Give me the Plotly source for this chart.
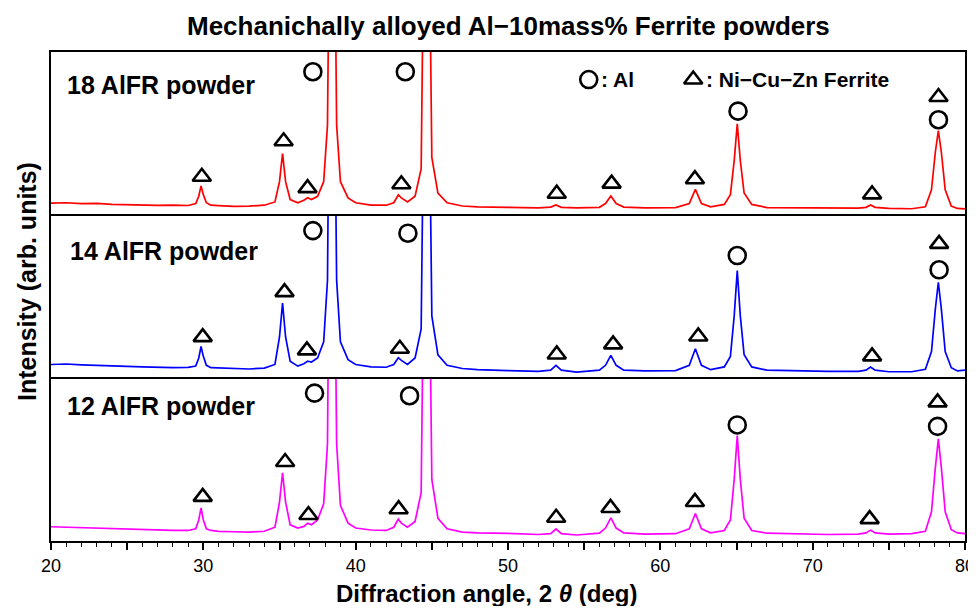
import plotly.graph_objects as go

# ---------------- data ----------------
two_theta = [20, 21, 22, 23, 24, 25, 26, 27, 28, 29, 29.5, 29.7, 29.85, 30.0, 30.2, 30.5,
             31, 32, 33, 34, 34.7, 35.0, 35.2, 35.4, 35.7, 36.2, 36.6, 36.85, 37.1, 37.5,
             37.9, 38.15, 38.3, 38.45, 38.6, 38.75, 39.0, 39.5, 40, 41, 42, 42.5, 42.8, 43.0,
             43.4, 43.9, 44.3, 44.5, 44.65, 44.8, 45.0, 45.4, 46, 47, 48, 50, 52, 52.8, 53.15,
             53.5, 54.5, 56, 56.4, 56.75, 57.1, 57.6, 59, 61, 61.9, 62.3, 62.7, 63.3, 64.2,
             64.6, 64.85, 65.05, 65.25, 65.5, 66.0, 67, 69, 71, 73, 73.5, 73.8, 74.1, 75,
             76.5, 77.4, 77.8, 78.05, 78.25, 78.45, 78.7, 79.1, 79.5, 80]

int_18 = [6.8, 7.0, 6.5, 6.6, 6.0, 5.8, 5.5, 5.4, 5.6, 5.3, 6.5, 11, 17.4, 12, 7, 5.5,
          5.2, 4.8, 4.9, 5.5, 7.5, 20, 37.3, 20, 9, 7, 8.5, 10.1, 9, 11,
          20, 55, 200, 400, 200, 55, 20, 10, 7, 5.5, 5.5, 7, 11.8, 10,
          7.5, 11, 28, 200, 400, 200, 35, 13, 7, 5, 4.5, 4.2, 3.9, 4.3, 5.6,
          4.2, 3.8, 4.2, 6.5, 11.2, 6.5, 4.3, 3.9, 4.0, 6.5, 15.3, 6.5, 4.5, 6,
          12, 33, 55.7, 33, 13, 6, 4, 3.8, 3.6, 3.7, 4.2, 5.6, 4.2, 3.5,
          3.3, 4.5, 15, 38, 51.5, 38, 15, 5, 3.5, 3.2]

int_14 = [8.0, 8.3, 7.8, 7.6, 7.0, 6.8, 6.5, 6.2, 6.0, 6.2, 7, 12, 19.1, 13, 7.5, 6,
          5.8, 5.5, 5.2, 5.8, 8, 25, 45.9, 25, 10, 7, 8.5, 10.1, 9.5, 12,
          22, 60, 200, 400, 200, 60, 22, 11, 8, 6.5, 6.3, 8, 12.2, 10.5,
          8, 12, 30, 200, 400, 200, 38, 14, 7.5, 5.5, 4.8, 4.2, 3.8, 4.5, 7.4,
          4.5, 3.3, 4.5, 7.5, 13.6, 7.5, 4.5, 4.0, 4.2, 7.5, 17.7, 7.5, 4.8, 6.5,
          13, 38, 66.0, 38, 14, 6.5, 4.5, 4.0, 3.8, 3.8, 4.5, 6.4, 4.5, 3.5,
          3.5, 5, 16, 42, 58.8, 42, 16, 6, 4, 4.5]

int_12 = [8.8, 8.5, 8.3, 8.0, 7.5, 7.3, 7.0, 6.7, 6.5, 6.5, 7.5, 13, 20.4, 13, 7.5, 6.5,
          6, 5.7, 5.5, 6, 8.5, 24, 42.1, 24, 10, 8, 9, 11, 10, 13,
          23, 60, 200, 400, 200, 60, 22, 11, 8, 6.8, 6.5, 8.5, 13.5, 11,
          8.5, 12, 30, 200, 400, 200, 38, 14, 7.5, 5.5, 5, 4.7, 4, 4.5, 7.4,
          4.5, 3.7, 4.8, 8, 14.3, 8, 5, 4.3, 4.5, 7.5, 17.0, 7.5, 5, 6.5,
          13, 38, 65.0, 38, 14, 6.5, 4.8, 4.2, 4.0, 4.2, 5, 6.7, 5, 4.3,
          4.5, 6, 18, 45, 63.0, 45, 18, 7, 5, 4.5]

series_names = ["18 AlFR powder", "14 AlFR powder", "12 AlFR powder"]
series_values = [int_18, int_14, int_12]
series_colors = ["#FF0000", "#0000FF", "#FF00FF"]

# peak identification marks: (2theta, height) per panel
al_marks = [
    [(37.19, 87.8), (43.26, 87.8), (65.1, 63.5), (78.26, 58.2)],
    [(37.19, 90.7), (43.43, 89.1), (65.05, 75.3), (78.3, 66.5)],
    [(37.3, 91.2), (43.54, 89.6), (65.05, 71.6), (78.2, 70.7)],
]
ferrite_marks = [
    [(29.9, 23.0), (35.27, 44.9), (36.84, 16.0), (43.0, 18.4), (53.2, 12.6),
     (56.8, 18.8), (62.27, 21.5), (73.9, 12.2), (78.26, 72.2)],
    [(29.96, 24.9), (35.33, 52.7), (36.8, 16.7), (42.9, 17.7), (53.2, 14.2),
     (56.9, 20.4), (62.49, 25.3), (73.9, 13.0), (78.3, 82.5)],
    [(29.96, 27.2), (35.37, 48.7), (36.9, 16.0), (42.82, 19.6), (53.16, 14.3),
     (56.73, 20.4), (62.27, 24.1), (73.74, 13.5), (78.2, 85.5)],
]
label_pos = [(20.92, 79.5), (21.1, 78.4), (20.9, 83.4)]
key_al = (55.3, 83.0)
key_ferrite = (62.16, 83.0)

x_tick_vals = [20, 25, 30, 35, 40, 45, 50, 55, 60, 65, 70, 75, 80]
x_tick_text = ["20", "", "30", "", "40", "", "50", "", "60", "", "70", "", "80"]

# ---------------- figure ----------------
FONT = "Liberation Sans, Arial, sans-serif"
CIRCLE = dict(symbol="circle-open", size=17, color="black", line=dict(width=2.6, color="black"))
TRI = dict(symbol="triangle-up-open", size=16, color="black", line=dict(width=2.6, color="black"))

fig = go.Figure()

domains = [[0.6685, 1.0], [0.3345, 0.6655], [0.0, 0.3315]]
for i in range(3):
    xa = "x" if i == 0 else f"x{i+1}"
    ya = "y" if i == 0 else f"y{i+1}"
    fig.add_trace(go.Scatter(x=two_theta, y=series_values[i], mode="lines",
                             line=dict(color=series_colors[i], width=1.7),
                             xaxis=xa, yaxis=ya, showlegend=False, hoverinfo="skip"))
    fig.add_trace(go.Scatter(x=[p[0] for p in al_marks[i]], y=[p[1] for p in al_marks[i]],
                             mode="markers", xaxis=xa, yaxis=ya, showlegend=False,
                             marker=CIRCLE))
    fig.add_trace(go.Scatter(x=[p[0] for p in ferrite_marks[i]], y=[p[1] for p in ferrite_marks[i]],
                             mode="markers", xaxis=xa, yaxis=ya, showlegend=False,
                             marker=TRI))
    fig.add_annotation(x=label_pos[i][0], y=label_pos[i][1], xref=xa, yref=ya,
                       text="<b>" + series_names[i] + "</b>", showarrow=False,
                       xanchor="left", yanchor="middle",
                       font=dict(family=FONT, size=25, color="black"))

# key in top panel
fig.add_trace(go.Scatter(x=[key_al[0]], y=[key_al[1]], mode="markers", showlegend=False,
                         marker=CIRCLE))
fig.add_trace(go.Scatter(x=[key_ferrite[0]], y=[key_ferrite[1]], mode="markers", showlegend=False,
                         marker=TRI))
fig.add_annotation(x=key_al[0] + 0.7, y=key_al[1], xref="x", yref="y", text="<b>: Al</b>",
                   showarrow=False, xanchor="left", yanchor="middle",
                   font=dict(family=FONT, size=21, color="black"))
fig.add_annotation(x=key_ferrite[0] + 0.7, y=key_ferrite[1], xref="x", yref="y",
                   text="<b>: Ni\u2212Cu\u2212Zn Ferrite</b>",
                   showarrow=False, xanchor="left", yanchor="middle",
                   font=dict(family=FONT, size=21, color="black"))

axis_common = dict(showline=True, linecolor="black", linewidth=2.2, mirror=True,
                   showgrid=False, zeroline=False, automargin=False)
# the page body adds an 8px margin on every side, so the figure is 16px smaller than
# the window (no scrollbars) and the margins are shifted by 8px
layout = dict(
    width=960, height=598,
    margin=dict(l=43, r=3, t=44, b=65),
    paper_bgcolor="white", plot_bgcolor="white",
    font=dict(family=FONT, color="black"),
)
for i in range(3):
    xk = "xaxis" if i == 0 else f"xaxis{i+1}"
    yk = "yaxis" if i == 0 else f"yaxis{i+1}"
    xa = "x" if i == 0 else f"x{i+1}"
    ya = "y" if i == 0 else f"y{i+1}"
    xd = dict(axis_common, range=[20, 80], anchor=ya, domain=[0, 1])
    if i > 0:
        xd["matches"] = "x"
    if i == 2:
        xd.update(tickmode="array", tickvals=x_tick_vals, ticktext=x_tick_text,
                  ticks="outside", ticklen=7, tickwidth=1.5, tickcolor="black",
                  ticklabeloverflow="allow",
                  tickfont=dict(family=FONT, size=18, color="black"),
                  minor=dict(dtick=1, ticks="outside", ticklen=4, tickwidth=1, tickcolor="black"))
    else:
        xd.update(showticklabels=False, ticks="")
    layout[xk] = xd
    layout[yk] = dict(axis_common, range=[0, 100], anchor=xa, domain=domains[i],
                      showticklabels=False, ticks="")

fig.update_layout(**layout)

PH = 489.0
PW = 914.0
fig.add_annotation(x=(508 - 51) / PW, y=1 + (52 - 26) / PH, xref="paper", yref="paper",
                   text="<b>Mechanichally alloyed Al\u221210mass% Ferrite powders</b>",
                   showarrow=False, xanchor="center", yanchor="middle",
                   font=dict(family=FONT, size=26, color="black"))
fig.add_annotation(x=(486 - 51) / PW, y=-(593 - 541) / PH, xref="paper", yref="paper",
                   text="<b>Diffraction angle, 2 <i>\u03b8</i> (deg)</b>", showarrow=False,
                   xanchor="center", yanchor="middle",
                   font=dict(family=FONT, size=24, color="black"))
fig.add_annotation(x=-(51 - 27) / PW, y=(541 - 282) / PH, xref="paper", yref="paper",
                   text="<b>Intensity (arb. units)</b>", showarrow=False, textangle=-90,
                   xanchor="center", yanchor="middle",
                   font=dict(family=FONT, size=25, color="black"))

fig.write_html("out.html")
